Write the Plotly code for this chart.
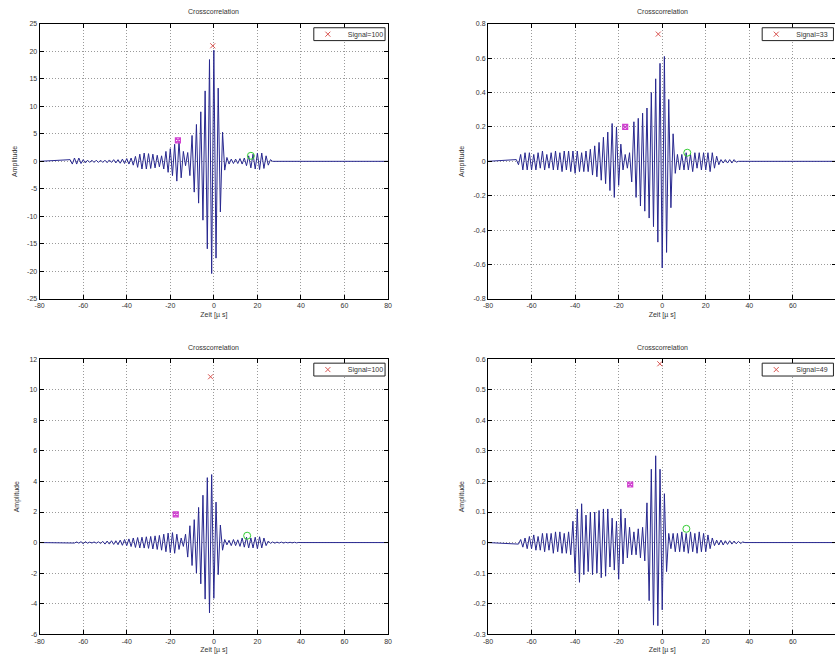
import plotly.graph_objects as go

# ---------------------------------------------------------------------------
# Cross-correlation waveforms, stored as successive extrema (one every half
# period of the ~0.5 MHz carrier), starting at the given lag time in µs.
# ---------------------------------------------------------------------------
HALF_PERIOD = 1.0          # µs between successive extrema
LAG_MIN, LAG_MAX = -80, 80  # lag window of the correlation

# Panel 1 (top left)
P1_START = -66
P1_EXTREMA = [
    0.3, -0.5, 0.6, -0.5, 0.6, -0.4, 0.3, -0.3, 0.2, -0.2,
    0.2, -0.2, 0.2, -0.2, 0.2, -0.2, 0.2, -0.25, 0.25, -0.2,
    0.3, -0.3, 0.3, -0.35, 0.4, -0.4, 0.5, -0.5, 0.6, -0.7,
    0.9, -1.1, 1.3, -1.4, 1.5, -1.4, 1.4, -1.3, 1.3, -1.2,
    1.1, -1.0, 1.0, -1.4, 1.8, -2.0, 2.3, -2.6, 3.1, -3.6,
    3.7, -3.0, 1.8, -0.8, 1.6, -2.6, 4.7, -5.6, 6.7, -7.6,
    9.0, -10.7, 12.8, -15.9, 18.5, -20.4, 20.2, -17.6, 13.3, -9.2,
    5.3, -1.6, 0.7, -0.5, 0.4, -0.4, 0.4, -0.4, 0.5, -0.5,
    0.6, -0.8, 1.0, -1.2, 1.3, -1.4, 1.5, -1.5, 1.5, -1.3,
    1.0, -0.7, 0.3, 0.0,
]

# Panel 2 (top right)
P2_START = -67
P2_EXTREMA = [
    0.01, -0.02, 0.04, -0.05, 0.05, -0.05, 0.05, -0.05, 0.04, -0.05,
    0.05, -0.04, 0.06, -0.05, 0.04, -0.04, 0.05, -0.05, 0.06, -0.05,
    0.05, -0.06, 0.06, -0.05, 0.06, -0.06, 0.06, -0.07, 0.06, -0.06,
    0.05, -0.06, 0.06, -0.06, 0.07, -0.08, 0.09, -0.09, 0.11, -0.11,
    0.14, -0.13, 0.17, -0.17, 0.22, -0.21, 0.20, -0.14, 0.10, -0.05,
    0.04, -0.04, 0.05, -0.12, 0.23, -0.21, 0.25, -0.26, 0.28, -0.29,
    0.31, -0.33, 0.40, -0.38, 0.48, -0.47, 0.57, -0.62, 0.61, -0.53,
    0.36, -0.27, 0.16, -0.07, 0.04, -0.05, 0.04, -0.05, 0.05, -0.05,
    0.04, -0.06, 0.05, -0.04, 0.05, -0.05, 0.05, -0.05, 0.05, -0.06,
    0.05, -0.04, 0.03, -0.02, 0.01, -0.01, 0.01, -0.01, 0.01, -0.01,
    0.01, -0.005, 0.0,
]

# Panel 3 (bottom left)
P3_START = -64
P3_EXTREMA = [
    -0.03, 0.04, -0.04, 0.06, -0.08, 0.06, -0.04, 0.03, -0.03, 0.04,
    -0.04, 0.05, -0.06, 0.08, -0.10, 0.10, -0.10, 0.12, -0.12, 0.12,
    -0.14, 0.16, -0.18, 0.20, -0.20, 0.24, -0.26, 0.30, -0.32, 0.33,
    -0.35, 0.35, -0.36, 0.38, -0.38, 0.40, -0.42, 0.44, -0.45, 0.47,
    -0.50, 0.55, -0.60, 0.62, -0.66, 0.65, -0.70, 0.55, -0.45, 0.30,
    -0.25, 0.55, -0.95, 1.10, -1.50, 1.50, -2.00, 2.30, -2.70, 3.10,
    -3.70, 4.25, -4.60, 4.45, -3.65, 2.65, -2.10, 1.15, -0.50, 0.20,
    -0.15, 0.15, -0.20, 0.20, -0.20, 0.18, -0.25, 0.30, -0.30, 0.35,
    -0.35, 0.30, -0.35, 0.35, -0.40, 0.38, -0.35, 0.30, -0.20, 0.10,
    -0.05, 0.04, -0.04, 0.03, -0.03, 0.03, -0.03, 0.02, -0.02, 0.02,
    -0.02, 0.02, -0.02, 0.01, 0.0,
]

# Panel 4 (bottom right)
P4_START = -66
P4_EXTREMA = [
    -0.005, 0.01, -0.015, 0.015, -0.02, 0.02, -0.02, 0.025, -0.025, 0.02,
    -0.025, 0.03, -0.03, 0.03, -0.025, 0.03, -0.035, 0.035, -0.03, 0.035,
    -0.035, 0.03, -0.035, 0.035, -0.04, 0.07, -0.10, 0.11, -0.13, 0.127,
    -0.105, 0.09, -0.095, 0.10, -0.105, 0.10, -0.10, 0.105, -0.115, 0.11,
    -0.11, 0.11, -0.08, 0.08, -0.09, 0.07, -0.12, 0.11, -0.07, 0.08,
    -0.05, 0.05, -0.04, 0.035, -0.04, 0.045, -0.05, 0.05, -0.06, 0.13,
    -0.19, 0.24, -0.27, 0.284, -0.272, 0.24, -0.22, 0.16, -0.095, 0.03,
    -0.02, 0.03, -0.03, 0.03, -0.03, 0.035, -0.03, 0.03, -0.035, 0.035,
    -0.03, 0.03, -0.035, 0.035, -0.03, 0.03, -0.03, 0.025, -0.02, 0.015,
    -0.01, 0.008, -0.008, 0.008, -0.008, 0.006, -0.006, 0.006, -0.005, 0.005,
    -0.004, 0.004, -0.003, 0.002, 0.0,
]

# Marked points (lag µs, amplitude): main peak, early echo, late echo
P1_MAIN, P1_EARLY, P1_LATE = (-0.5, 21.0), (-16.5, 3.8), (17.0, 1.0)
P2_MAIN, P2_EARLY, P2_LATE = (-1.8, 0.74), (-17.0, 0.2), (11.5, 0.05)
P3_MAIN, P3_EARLY, P3_LATE = (-1.5, 10.85), (-17.5, 1.85), (15.3, 0.45)
P4_MAIN, P4_EARLY, P4_LATE = (-1.1, 0.585), (-14.7, 0.19), (11.1, 0.045)

LEGEND_LABELS = ["Signal=100", "Signal=33", "Signal=100", "Signal=49"]

# Axis ticks
X_TICKS = [-80, -60, -40, -20, 0, 20, 40, 60, 80]
X_TICK_TEXT = ["-80", "-60", "-40", "-20", "0", "20", "40", "60", "80"]
P1_YTICKS = [-25, -20, -15, -10, -5, 0, 5, 10, 15, 20, 25]
P1_YTEXT = ["-25", "-20", "-15", "-10", "-5", "0", "5", "10", "15", "20", "25"]
P2_YTICKS = [-0.8, -0.6, -0.4, -0.2, 0, 0.2, 0.4, 0.6, 0.8]
P2_YTEXT = ["-0.8", "-0.6", "-0.4", "-0.2", "0", "0.2", "0.4", "0.6", "0.8"]
P3_YTICKS = [-6, -4, -2, 0, 2, 4, 6, 8, 10, 12]
P3_YTEXT = ["-6", "-4", "-2", "0", "2", "4", "6", "8", "10", "12"]
P4_YTICKS = [-0.3, -0.2, -0.1, 0, 0.1, 0.2, 0.3, 0.4, 0.5, 0.6]
P4_YTEXT = ["-0.3", "-0.2", "-0.1", "0", "0.1", "0.2", "0.3", "0.4", "0.5", "0.6"]

# ---------------------------------------------------------------------------
W, H = 880, 662
FONT = "Liberation Sans, Arial, sans-serif"
TEXT_COLOR = "#333333"
LINE_COLOR = "#28288f"


def fx(p):
    return p / W


def fy(p):
    return 1 - p / H


# plot-area boxes in pixels: (left, right, top, bottom)
BOXES = [(35, 387, 20, 298), (488, 840, 20, 298),
         (35, 387, 359, 637), (488, 840, 359, 637)]
LEGEND_W, LEGEND_H = 72, 13

panels = [
    (P1_START, P1_EXTREMA, P1_MAIN, P1_EARLY, P1_LATE, [-25, 25], P1_YTICKS, P1_YTEXT),
    (P2_START, P2_EXTREMA, P2_MAIN, P2_EARLY, P2_LATE, [-0.8, 0.8], P2_YTICKS, P2_YTEXT),
    (P3_START, P3_EXTREMA, P3_MAIN, P3_EARLY, P3_LATE, [-6, 12], P3_YTICKS, P3_YTEXT),
    (P4_START, P4_EXTREMA, P4_MAIN, P4_EARLY, P4_LATE, [-0.3, 0.6], P4_YTICKS, P4_YTEXT),
]

fig = go.Figure()
layout = dict(
    width=W, height=H,
    margin=dict(l=0, r=0, t=0, b=0),
    paper_bgcolor="white", plot_bgcolor="white",
    font=dict(family=FONT, size=7, color=TEXT_COLOR),
    showlegend=True,
    annotations=[],
    shapes=[],
)

axis_common = dict(
    showline=True, linecolor="black", linewidth=1, mirror="ticks",
    ticks="inside", ticklen=4, tickcolor="black", tickwidth=1,
    showgrid=True, gridcolor="#9a9a9a", griddash="1px,2px", gridwidth=1,
    zeroline=False,
    tickfont=dict(family=FONT, size=7, color=TEXT_COLOR),
)

for i, (start, ext, main, early, late, yr, ytv, ytt) in enumerate(panels):
    n = i + 1
    xa = "x" if n == 1 else f"x{n}"
    ya = "y" if n == 1 else f"y{n}"
    leg = "legend" if n == 1 else f"legend{n}"
    left, right, top, bottom = BOXES[i]

    lags = [LAG_MIN] + [start + k * HALF_PERIOD for k in range(len(ext))] + [LAG_MAX]
    amps = [0.0] + list(ext) + [0.0]

    fig.add_trace(go.Scatter(
        x=lags, y=amps, mode="lines", xaxis=xa, yaxis=ya,
        line=dict(color=LINE_COLOR, width=1), showlegend=False, hoverinfo="skip",
    ))
    fig.add_trace(go.Scatter(
        x=[main[0]], y=[main[1]], mode="markers", xaxis=xa, yaxis=ya,
        name=LEGEND_LABELS[i], legend=leg, showlegend=True,
        marker=dict(symbol="x-thin-open", size=5, color="#d9534f",
                    line=dict(width=1, color="#d9534f")),
    ))
    fig.add_trace(go.Scatter(
        x=[early[0]], y=[early[1]], mode="markers", xaxis=xa, yaxis=ya,
        showlegend=False,
        marker=dict(symbol="square-x-open", size=5, color="#d040d0",
                    line=dict(width=1.2, color="#d040d0")),
    ))
    fig.add_trace(go.Scatter(
        x=[late[0]], y=[late[1]], mode="markers", xaxis=xa, yaxis=ya,
        showlegend=False,
        marker=dict(symbol="circle-open", size=7, color="#33cc33",
                    line=dict(width=1, color="#33cc33")),
    ))

    # the right-hand panels run past the page edge, so their last tick label is left blank
    xtext = X_TICK_TEXT if right < W - 50 else X_TICK_TEXT[:-1] + [""]

    xkey = "xaxis" if n == 1 else f"xaxis{n}"
    ykey = "yaxis" if n == 1 else f"yaxis{n}"
    layout[xkey] = dict(
        axis_common, domain=[fx(left), fx(right)], anchor=ya,
        range=[LAG_MIN, LAG_MAX], tickvals=X_TICKS, ticktext=xtext,
        title=dict(text="Zeit [µ s]", standoff=3,
                   font=dict(family=FONT, size=7, color=TEXT_COLOR)),
    )
    layout[ykey] = dict(
        axis_common, domain=[fy(bottom), fy(top)], anchor=xa,
        range=yr, tickvals=ytv, ticktext=ytt,
        title=dict(text="Amplitude", standoff=8,
                   font=dict(family=FONT, size=7, color=TEXT_COLOR)),
    )

    # legend frame: a compact box in the upper right corner of the axes
    box_r = right - 3
    box_l = box_r - LEGEND_W
    box_t = top + 4
    layout["shapes"].append(dict(
        type="rect", xref="paper", yref="paper", layer="above",
        x0=fx(box_l), x1=fx(box_r), y0=fy(box_t + LEGEND_H), y1=fy(box_t),
        fillcolor="white", line=dict(color="#222222", width=1),
    ))
    layout[leg] = dict(
        x=fx(box_l - 6), xanchor="left", y=fy(box_t + LEGEND_H / 2), yanchor="middle",
        bgcolor="rgba(0,0,0,0)", borderwidth=0,
        font=dict(family=FONT, size=7, color=TEXT_COLOR),
        itemwidth=30, tracegroupgap=0,
    )
    layout["annotations"].append(dict(
        text="Crosscorrelation", xref="paper", yref="paper",
        x=fx((left + right) / 2), y=fy(top - 12), xanchor="center", yanchor="middle",
        showarrow=False, font=dict(family=FONT, size=7, color=TEXT_COLOR),
    ))

fig.update_layout(**layout)

fig.write_html(
    "out.html",
    config={"displayModeBar": False},
    post_script="document.body.style.overflow='hidden';",
)
